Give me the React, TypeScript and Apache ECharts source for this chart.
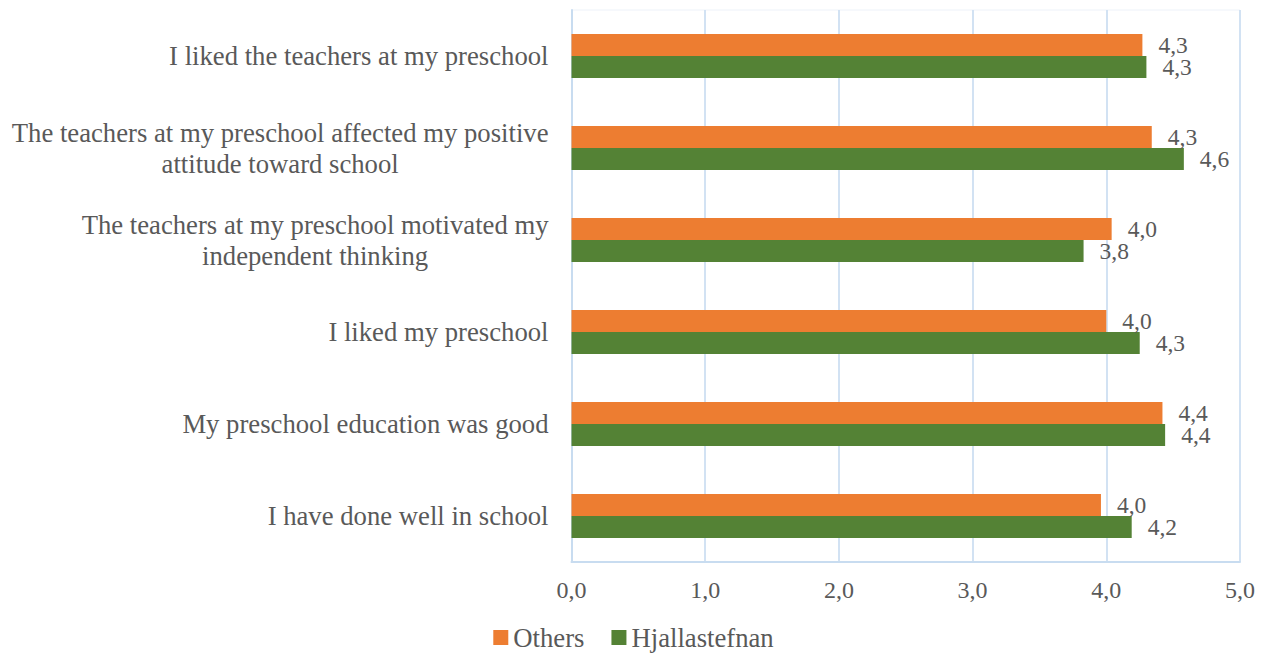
import React, { useEffect, useRef } from "react";
import * as echarts from "echarts";

const categories = [
  "I liked the teachers at my preschool",
  "The teachers at my preschool affected my positive\nattitude toward school",
  "The teachers at my preschool motivated my\nindependent thinking",
  "I liked my preschool",
  "My preschool education was good",
  "I have done well in school",
];
const seriesNames = ["Others", "Hjallastefnan"];
const othersValues = [4.27, 4.34, 4.04, 4.0, 4.42, 3.96];
const hjallastefnanValues = [4.3, 4.58, 3.83, 4.25, 4.44, 4.19];
const xTicks = { min: 0, max: 5, interval: 1 };

const FONT = '"Liberation Serif", "Times New Roman", serif';
const TEXT = "#595959";

const fmt = (v: number) => v.toFixed(1).replace(".", ",");

export default function App() {
  const ref = useRef<HTMLDivElement>(null);
  useEffect(() => {
    if (!ref.current) return;
    const chart = echarts.init(ref.current, undefined, { renderer: "svg" });
    const labelStyle = {
      show: true,
      position: "right" as const,
      distance: 16,
      color: TEXT,
      fontFamily: FONT,
      fontSize: 23.5,
      formatter: (p: any) => fmt(p.value),
    };
    chart.setOption({
      animation: false,
      backgroundColor: "#ffffff",
      textStyle: { fontFamily: FONT, color: TEXT },
      grid: {
        left: 571.5,
        right: 27,
        top: 10,
        bottom: 91,
        show: true,
        borderColor: "#EDF2F9",
        borderWidth: 1,
      },
      legend: {
        data: seriesNames,
        left: "center",
        top: 619,
        icon: "rect",
        itemWidth: 15,
        itemHeight: 15,
        itemGap: 27,
        textStyle: { fontFamily: FONT, fontSize: 26.7, color: TEXT },
      },
      xAxis: {
        type: "value",
        min: xTicks.min,
        max: xTicks.max,
        interval: xTicks.interval,
        axisLine: { show: true, lineStyle: { color: "#C8DCF0", width: 2 } },
        axisTick: { show: false },
        splitLine: { show: true, lineStyle: { color: "#D2E2F3", width: 2 } },
        axisLabel: {
          color: TEXT,
          fontFamily: FONT,
          fontSize: 24,
          margin: 16,
          formatter: (v: number) => fmt(v),
        },
      },
      yAxis: {
        type: "category",
        data: categories,
        inverse: true,
        axisLine: { show: true, lineStyle: { color: "#C8DCF0", width: 2 } },
        axisTick: { show: false },
        splitLine: { show: false },
        axisLabel: {
          margin: 23,
          align: "right",
          color: TEXT,
          fontFamily: FONT,
          fontSize: 26.7,
          lineHeight: 31,
          formatter: (v: string) =>
            v
              .split("\n")
              .map((l) => `{c|${l}}`)
              .join("\n"),
          rich: {
            c: {
              align: "center",
              color: TEXT,
              fontFamily: FONT,
              fontSize: 26.7,
              lineHeight: 31,
            },
          },
        },
      },
      series: [
        {
          name: seriesNames[0],
          type: "bar",
          data: othersValues,
          barWidth: 22,
          barGap: "0%",
          itemStyle: { color: "#ED7D31" },
          label: labelStyle,
        },
        {
          name: seriesNames[1],
          type: "bar",
          data: hjallastefnanValues,
          barWidth: 22,
          barGap: "0%",
          itemStyle: { color: "#548235" },
          label: labelStyle,
        },
      ],
    });
    return () => chart.dispose();
  }, []);
  return (
    <div
      ref={ref}
      style={{ position: "fixed", left: 0, top: 0, width: 1267, height: 653 }}
    />
  );
}
